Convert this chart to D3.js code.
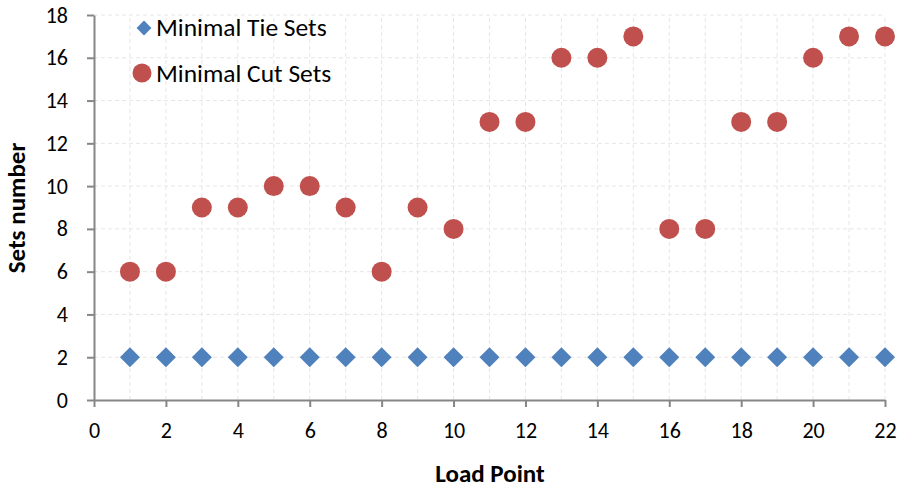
<!DOCTYPE html>
<html><head><meta charset="utf-8">
<script src="https://cdn.jsdelivr.net/npm/d3@7"></script>
<style>body{margin:0;background:#fff}svg{display:block}</style>
</head><body>
<svg id="c" width="900" height="489"></svg>
<script>
const loadPoints = [1,2,3,4,5,6,7,8,9,10,11,12,13,14,15,16,17,18,19,20,21,22];
const tieSets = [2,2,2,2,2,2,2,2,2,2,2,2,2,2,2,2,2,2,2,2,2,2];
const cutSets = [6,6,9,9,10,10,9,6,9,8,13,13,16,16,17,8,8,13,13,16,17,17];
const xTicks = [0,2,4,6,8,10,12,14,16,18,20,22];
const yTicks = [0,2,4,6,8,10,12,14,16,18];
const seriesNames = ["Minimal Tie Sets","Minimal Cut Sets"];

const svg = d3.select("#c");
const font = "Calibri, Carlito, Lato, sans-serif";
const x = d3.scaleLinear().domain([0,22]).range([94,885]);
const y = d3.scaleLinear().domain([0,18]).range([400,15]);

// gridlines
svg.append("g").selectAll("line").data(d3.range(1,23)).join("line")
  .attr("x1",d=>x(d)).attr("x2",d=>x(d)).attr("y1",y(0)).attr("y2",y(18))
  .attr("stroke","#e6e6e6").attr("stroke-dasharray","4,3");
svg.append("g").selectAll("line").data(yTicks.slice(1)).join("line")
  .attr("x1",x(0)).attr("x2",x(22)).attr("y1",d=>y(d)).attr("y2",d=>y(d))
  .attr("stroke","#e6e6e6").attr("stroke-dasharray","4,3");

const gx = svg.append("g").attr("transform",`translate(0,${y(0)})`)
  .call(d3.axisBottom(x).tickValues(xTicks).tickSize(7).tickPadding(8).tickSizeOuter(0));
const gy = svg.append("g").attr("transform",`translate(${x(0)},0)`)
  .call(d3.axisLeft(y).tickValues(yTicks).tickSize(7).tickPadding(19).tickSizeOuter(0));
[gx,gy].forEach(g=>{
  g.selectAll("path,line").attr("stroke","#868686").attr("stroke-width",2);
  g.selectAll("text").attr("font-family",font).attr("font-size",22).attr("fill","#000");
});
gx.selectAll("text").attr("y",38).attr("dy",0);

// points
svg.append("g").selectAll("circle").data(cutSets).join("circle")
  .attr("cx",(d,i)=>x(loadPoints[i])).attr("cy",d=>y(d)).attr("r",10)
  .attr("fill","#C0504D");
const diamond = d3.symbol().type(d3.symbolSquare).size(200);
svg.append("g").selectAll("path").data(tieSets).join("path")
  .attr("d",diamond)
  .attr("transform",(d,i)=>`translate(${x(loadPoints[i])},${y(d)}) rotate(45)`)
  .attr("fill","#4F81BD");

// legend
svg.append("path").attr("d",d3.symbol().type(d3.symbolSquare).size(110))
  .attr("transform","translate(144,28) rotate(45)").attr("fill","#4F81BD");
svg.append("circle").attr("cx",142).attr("cy",73).attr("r",9.5).attr("fill","#C0504D");
svg.selectAll("text.leg").data(seriesNames).join("text").attr("class","leg")
  .attr("x",156).attr("y",(d,i)=>27+i*46).attr("dy","0.35em")
  .attr("font-family",font).attr("font-size",25.5).attr("fill","#000").text(d=>d);

// titles
svg.append("text").attr("x",490).attr("y",482).attr("text-anchor","middle")
  .attr("font-family",font).attr("font-size",25).attr("font-weight","bold").text("Load Point");
svg.append("text").attr("transform","translate(25,208) rotate(-90)").attr("text-anchor","middle")
  .attr("font-family",font).attr("font-size",25).attr("font-weight","bold").text("Sets number");
</script>
</body></html>
